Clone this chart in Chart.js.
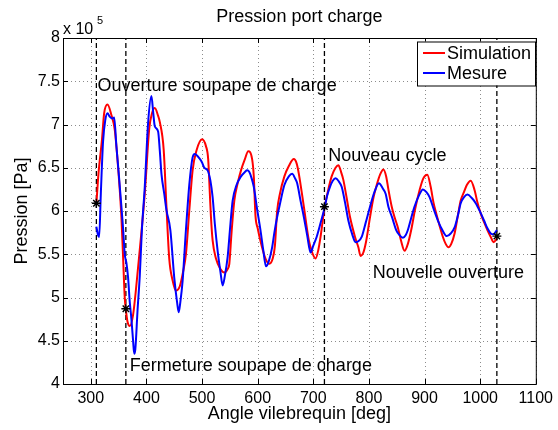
<!DOCTYPE html>
<html>
<head>
<meta charset="utf-8">
<title>Pression port charge</title>
<script src="https://cdn.jsdelivr.net/npm/chart.js@4.4.0/dist/chart.umd.min.js"></script>
<style>
    html, body { margin: 0; padding: 0; background: #fff; }
    #wrap { width: 558px; height: 430px; }
</style>
</head>
<body>
<div id="wrap"><canvas id="pressChart" width="558" height="430"></canvas></div>
<script>
// Simulation (red) - crank angle [deg] / pressure [x 10^5 Pa]
const simAngle = [310, 314, 320, 324, 330, 337, 343, 349, 355, 358, 361, 363, 366, 370, 376, 385, 397, 405, 410, 415,
    421, 424, 431, 436, 441, 447, 453, 460, 466, 471, 477, 483, 490, 500, 507, 511, 514, 516, 519, 525,
    533, 540, 546, 549, 553, 558, 564, 570, 577, 583, 590, 593, 596, 600, 607, 614, 621, 627, 631, 635,
    640, 648, 656, 665, 670, 674, 683, 692, 698, 704, 709, 713, 720, 727, 733, 740, 745, 750, 754, 760,
    766, 775, 781, 785, 790, 795, 802, 808, 814, 820, 826, 831, 835, 841, 846, 852, 858, 864, 870, 876,
    883, 891, 898, 905, 911, 916, 921, 927, 933, 938, 943, 948, 954, 960, 965, 971, 976, 983, 990, 995,
    1001, 1007, 1013, 1019, 1024, 1030];
const simPress = [6.08, 6.45, 6.82, 7.13, 7.23, 7.11, 6.94, 6.51, 5.93, 5.47, 5.0, 4.86, 4.72, 4.67, 4.8, 5.35, 6.2, 6.95, 7.13, 7.19,
    7.1, 7.03, 6.71, 6.05, 5.45, 5.2, 5.08, 5.13, 5.3, 5.5, 6.0, 6.47, 6.7, 6.83, 6.75, 6.6, 6.2, 5.93, 5.66, 5.45,
    5.33, 5.29, 5.33, 5.39, 5.75, 6.12, 6.32, 6.47, 6.6, 6.69, 6.6, 6.4, 5.95, 5.8, 5.6, 5.45, 5.39, 5.45, 5.6, 6.0,
    6.2, 6.4, 6.52, 6.6, 6.55, 6.43, 6.05, 5.66, 5.52, 5.45, 5.55, 5.7, 6.03, 6.25, 6.4, 6.5, 6.53, 6.45, 6.36, 6.15,
    5.93, 5.7, 5.58, 5.48, 5.52, 5.65, 5.93, 6.15, 6.3, 6.42, 6.48, 6.4, 6.25, 6.05, 5.93, 5.81, 5.65, 5.54, 5.62, 5.78,
    6.02, 6.24, 6.38, 6.42, 6.28, 6.1, 5.97, 5.83, 5.7, 5.62, 5.58, 5.62, 5.74, 5.95, 6.12, 6.22, 6.3, 6.35, 6.24, 6.1,
    5.97, 5.87, 5.78, 5.7, 5.64, 5.68];

// Mesure (blue)
const mesAngle = [310, 313, 315, 318, 322, 326, 330, 334, 338, 342, 346, 350, 355, 358, 361, 364, 367, 370, 373, 376,
    378, 380, 384, 388, 392, 397, 403, 409, 412, 415, 421, 424, 427, 432, 436, 443, 450, 455, 458, 461,
    465, 471, 477, 483, 487, 495, 500, 504, 510, 515, 519, 523, 528, 533, 537, 541, 546, 551, 555, 562,
    570, 577, 581, 585, 589, 593, 599, 605, 610, 615, 620, 626, 630, 635, 640, 648, 656, 662, 667, 671,
    677, 683, 689, 695, 700, 706, 713, 720, 725, 730, 735, 740, 746, 751, 757, 763, 770, 776, 781, 787,
    794, 802, 810, 818, 825, 830, 835, 842, 849, 855, 861, 866, 870, 876, 882, 890, 897, 903, 909, 916,
    924, 932, 940, 947, 954, 960, 965, 971, 977, 985, 992, 1000, 1007, 1013, 1019, 1024, 1030];
const mesPress = [5.82, 5.72, 5.7, 6.2, 6.8, 7.05, 7.13, 7.09, 7.07, 7.08, 6.75, 6.45, 6.05, 5.8, 5.5, 5.4, 5.23, 4.95, 4.75, 4.5,
    4.35, 4.4, 4.85, 5.25, 5.8, 6.28, 7.02, 7.33, 7.15, 6.98, 6.92, 6.7, 6.43, 6.2, 6.01, 5.78, 5.23, 4.95, 4.83, 4.95,
    5.19, 5.78, 6.3, 6.62, 6.66, 6.61, 6.56, 6.5, 6.47, 6.35, 6.16, 5.85, 5.54, 5.3, 5.14, 5.25, 5.47, 5.85, 6.12, 6.3,
    6.4, 6.45, 6.47, 6.45, 6.38, 6.28, 6.02, 5.78, 5.55, 5.36, 5.42, 5.58, 5.75, 5.93, 6.08, 6.3, 6.4, 6.43, 6.38, 6.32,
    6.12, 5.93, 5.72, 5.52, 5.6, 5.7, 5.86, 6.03, 6.18, 6.28, 6.35, 6.38, 6.34, 6.28, 6.1, 5.89, 5.73, 5.64, 5.65, 5.7,
    5.86, 6.05, 6.22, 6.32, 6.26, 6.2, 6.05, 5.92, 5.78, 5.72, 5.69, 5.72, 5.78, 5.92, 6.05, 6.18, 6.25, 6.22, 6.16, 6.03,
    5.89, 5.78, 5.71, 5.74, 5.81, 5.95, 6.09, 6.16, 6.19, 6.15, 6.09, 5.99, 5.89, 5.8, 5.74, 5.73, 5.78];

// event markers (dashed lines + stars)
const markAngle = [310, 363, 720, 1030];
const markPress = [6.09, 4.87, 6.05, 5.71];

const xTicks = [300, 400, 500, 600, 700, 800, 900, 1000, 1100];
const yTicks = [4, 4.5, 5, 5.5, 6, 6.5, 7, 7.5, 8];

const noteText = ['Ouverture soupape de charge', 'Fermeture soupape de charge', 'Nouveau cycle', 'Nouvelle ouverture'];
const noteAngle = [312, 370, 727, 807];
const notePress = [7.45, 4.21, 6.64, 5.28];

const FONT = '"Liberation Sans", Arial, Helvetica, sans-serif';

const toPoints = (xs, ys) => xs.map((x, i) => ({ x: x, y: ys[i] }));

const datasets = [];
// dashed vertical event lines
markAngle.forEach(a => {
    datasets.push({
        label: '',
        data: [{ x: a, y: 4 }, { x: a, y: 8 }],
        borderColor: '#000',
        borderWidth: 1.3,
        borderDash: [5, 3],
        pointRadius: 0,
        order: 3
    });
});
datasets.push({
    label: 'Simulation',
    data: toPoints(simAngle, simPress),
    borderColor: '#ff0000',
    borderWidth: 2,
    pointRadius: 0,
    cubicInterpolationMode: 'monotone',
    order: 2
});
datasets.push({
    label: 'Mesure',
    data: toPoints(mesAngle, mesPress),
    borderColor: '#0000ff',
    borderWidth: 2,
    pointRadius: 0,
    cubicInterpolationMode: 'monotone',
    order: 1
});
datasets.push({
    label: '',
    data: toPoints(markAngle, markPress),
    showLine: false,
    pointStyle: 'star',
    pointRadius: 4.5,
    borderColor: '#000',
    backgroundColor: '#000',
    pointBorderWidth: 1.4,
    order: 0
});

// dotted grid, box, inward ticks, texts and legend drawn the matlab way
const matlabFrame = {
    id: 'matlabFrame',
    beforeDatasetsDraw(chart) {
        const ctx = chart.ctx;
        const a = chart.chartArea;
        const xs = chart.scales.x, ys = chart.scales.y;
        ctx.save();
        ctx.strokeStyle = 'rgba(0,0,0,0.45)';
        ctx.lineWidth = 1;
        ctx.setLineDash([1, 3]);
        ctx.beginPath();
        xTicks.forEach(v => {
            const px = Math.round(xs.getPixelForValue(v)) + 0.5;
            ctx.moveTo(px, a.top); ctx.lineTo(px, a.bottom);
        });
        yTicks.forEach(v => {
            const py = Math.round(ys.getPixelForValue(v)) + 0.5;
            ctx.moveTo(a.left, py); ctx.lineTo(a.right, py);
        });
        ctx.stroke();
        ctx.restore();
    },
    afterDraw(chart) {
        const ctx = chart.ctx;
        const a = chart.chartArea;
        const xs = chart.scales.x, ys = chart.scales.y;
        ctx.save();

        ctx.strokeStyle = '#000';
        ctx.lineWidth = 1;
        ctx.strokeRect(a.left + 0.5, a.top + 0.5, a.right - a.left, a.bottom - a.top);

        ctx.beginPath();
        xTicks.forEach(v => {
            const px = Math.round(xs.getPixelForValue(v)) + 0.5;
            ctx.moveTo(px, a.bottom); ctx.lineTo(px, a.bottom - 5);
            ctx.moveTo(px, a.top); ctx.lineTo(px, a.top + 5);
        });
        yTicks.forEach(v => {
            const py = Math.round(ys.getPixelForValue(v)) + 0.5;
            ctx.moveTo(a.left, py); ctx.lineTo(a.left + 5, py);
            ctx.moveTo(a.right, py); ctx.lineTo(a.right - 5, py);
        });
        ctx.stroke();

        ctx.fillStyle = '#000';
        ctx.font = '18px ' + FONT;
        ctx.textBaseline = 'middle';
        ctx.textAlign = 'left';
        noteText.forEach((t, i) => {
            ctx.fillText(t, xs.getPixelForValue(noteAngle[i]), ys.getPixelForValue(notePress[i]));
        });

        // title and axis labels
        const cx = (a.left + a.right) / 2;
        ctx.textAlign = 'center';
        ctx.fillText('Pression port charge', cx, 17);
        ctx.fillText('Angle vilebrequin [deg]', cx, 414);
        ctx.save();
        ctx.translate(22, (a.top + a.bottom) / 2);
        ctx.rotate(-Math.PI / 2);
        ctx.fillText('Pression [Pa]', 0, 0);
        ctx.restore();

        // exponent
        ctx.textAlign = 'left';
        ctx.textBaseline = 'alphabetic';
        ctx.font = '16px ' + FONT;
        ctx.fillText('x 10', a.left, 34);
        ctx.font = '11px ' + FONT;
        ctx.fillText('5', a.left + 34, 24);

        // legend
        const lx = 417, ly = 41.5, lw = 118, lh = 44;
        ctx.fillStyle = '#fff';
        ctx.fillRect(lx, ly, lw, lh);
        ctx.strokeStyle = '#000';
        ctx.strokeRect(lx + 0.5, ly + 0.5, lw, lh);
        const items = [['Simulation', '#ff0000', 53], ['Mesure', '#0000ff', 73]];
        ctx.font = '18px ' + FONT;
        ctx.textBaseline = 'middle';
        items.forEach(([txt, col, y]) => {
            ctx.strokeStyle = col;
            ctx.lineWidth = 2;
            ctx.beginPath();
            ctx.moveTo(423, y); ctx.lineTo(445, y);
            ctx.stroke();
            ctx.fillStyle = '#000';
            ctx.fillText(txt, 447, y + 1);
        });

        ctx.restore();
    }
};

new Chart(document.getElementById('pressChart'), {
    type: 'line',
    data: { datasets: datasets },
    options: {
        responsive: false,
        animation: false,
        devicePixelRatio: 1,
        layout: { padding: { top: 38, right: 19, left: 0, bottom: 0 } },
        plugins: {
            legend: { display: false },
            tooltip: { enabled: false }
        },
        scales: {
            x: {
                type: 'linear',
                min: 250,
                max: 1100,
                afterBuildTicks: s => { s.ticks = xTicks.map(v => ({ value: v })); },
                afterFit: s => { s.height = 46; },
                grid: { display: false, drawTicks: false },
                border: { display: false },
                ticks: {
                    autoSkip: false,
                    maxRotation: 0,
                    padding: 5,
                    color: '#000',
                    font: { family: FONT, size: 16 },
                    callback: v => String(v)
                }
            },
            y: {
                type: 'linear',
                min: 4,
                max: 8,
                afterBuildTicks: s => { s.ticks = yTicks.map(v => ({ value: v })); },
                afterFit: s => { s.width = 63; },
                grid: { display: false, drawTicks: false },
                border: { display: false },
                ticks: {
                    padding: 3,
                    color: '#000',
                    font: { family: FONT, size: 16 },
                    callback: v => String(v)
                }
            }
        }
    },
    plugins: [matlabFrame]
});
</script>
</body>
</html>
